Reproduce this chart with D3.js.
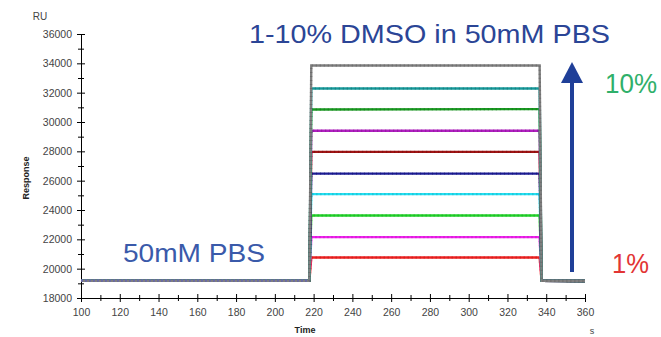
<!DOCTYPE html>
<html>
<head>
<meta charset="utf-8">
<script src="https://cdn.jsdelivr.net/npm/d3@7"></script>
<style>
  body { margin: 0; background: #fff; }
  svg { display: block; }
  .axis text { font-family: "Liberation Sans", Arial, sans-serif; font-size: 10.5px; fill: #444; }
  .axis path, .axis line { stroke: #000; }
</style>
</head>
<body>
<div id="chart"></div>
<script>
// Sensorgram: DMSO calibration series

// time points of each trace (s)
var times = [100, 217.8, 218.8, 336.6, 337.6, 360];

// series labels, colours and response values (RU) at each time point
var names = ["10%", "9%", "8%", "7%", "6%", "5%", "4%", "3%", "2%", "1%"];
var colors = ["#7f7f7f", "#17999a", "#1a9a22", "#b01fc0", "#a01414", "#1c1c96", "#22dff2", "#22d42a", "#f022ee", "#f02222"];
var s10 = [19180, 19180, 33850, 33850, 19170, 19160];
var s9  = [19180, 19180, 32280, 32280, 19170, 19160];
var s8  = [19180, 19180, 30850, 30880, 19170, 19160];
var s7  = [19190, 19190, 29400, 29400, 19170, 19160];
var s6  = [19180, 19180, 27960, 27960, 19170, 19160];
var s5  = [19190, 19190, 26480, 26480, 19170, 19160];
var s4  = [19180, 19180, 25080, 25080, 19170, 19160];
var s3  = [19180, 19180, 23630, 23630, 19170, 19160];
var s2  = [19190, 19190, 22150, 22150, 19170, 19160];
var s1  = [19180, 19180, 20760, 20760, 19170, 19160];
var values = [s10, s9, s8, s7, s6, s5, s4, s3, s2, s1];

var xTicks = [100, 120, 140, 160, 180, 200, 220, 240, 260, 280, 300, 320, 340, 360];
var yTicks = [18000, 20000, 22000, 24000, 26000, 28000, 30000, 32000, 34000, 36000];

var width = 661, height = 337;
var margin = {top: 34, right: 76, bottom: 39, left: 81};

var svg = d3.select("#chart").append("svg")
  .attr("width", width)
  .attr("height", height);

var x = d3.scaleLinear().domain([100, 360]).range([margin.left, width - margin.right]);
var y = d3.scaleLinear().domain([18000, 36000]).range([height - margin.bottom, margin.top]);

// minor ticks first, then the labelled ones
svg.append("g")
  .attr("class", "axis")
  .attr("transform", "translate(0," + y(18000) + ")")
  .call(d3.axisBottom(x).tickValues(d3.range(110, 360, 20)).tickSize(3).tickFormat(""))
  .call(function(g) { g.select(".domain").remove(); g.selectAll("line").attr("y1", -3); });

svg.append("g")
  .attr("class", "axis")
  .attr("transform", "translate(0," + y(18000) + ")")
  .call(d3.axisBottom(x).tickValues(xTicks).tickSize(4).tickSizeOuter(0).tickPadding(7))
  .call(function(g) { g.selectAll("line").attr("y1", -4); });

svg.append("g")
  .attr("class", "axis")
  .attr("transform", "translate(" + x(100) + ",0)")
  .call(d3.axisLeft(y).tickValues(d3.range(19000, 36000, 2000)).tickSize(3).tickFormat(""))
  .call(function(g) { g.select(".domain").remove(); g.selectAll("line").attr("x1", 3); });

svg.append("g")
  .attr("class", "axis")
  .attr("transform", "translate(" + x(100) + ",0)")
  .call(d3.axisLeft(y).tickValues(yTicks).tickSize(4).tickSizeOuter(0).tickPadding(5).tickFormat(d3.format("d")))
  .call(function(g) { g.selectAll("line").attr("x1", 4); });

// axis titles
svg.append("text")
  .attr("x", 40).attr("y", 20)
  .attr("text-anchor", "middle")
  .style("font-family", "Liberation Sans, Arial, sans-serif")
  .style("font-size", "10px").style("fill", "#444")
  .text("RU");

svg.append("text")
  .attr("transform", "translate(29,178) rotate(-90)")
  .attr("text-anchor", "middle")
  .style("font-family", "Liberation Sans, Arial, sans-serif")
  .style("font-size", "9px").style("font-weight", "bold").style("fill", "#222")
  .text("Response");

svg.append("text")
  .attr("x", 305).attr("y", 333)
  .attr("text-anchor", "middle")
  .style("font-family", "Liberation Sans, Arial, sans-serif")
  .style("font-size", "9px").style("font-weight", "bold").style("fill", "#222")
  .text("Time");

svg.append("text")
  .attr("x", 592).attr("y", 334)
  .attr("text-anchor", "middle")
  .style("font-family", "Liberation Sans, Arial, sans-serif")
  .style("font-size", "9px").style("fill", "#444")
  .text("s");

// traces, drawn from the lowest up so the top ones sit on the shared baseline
var line = d3.line()
  .x(function(d, i) { return x(times[i]); })
  .y(function(d) { return y(d); });

var traces = svg.append("g");
values.slice().reverse().forEach(function(v, j) {
  var k = values.length - 1 - j;
  traces.append("path")
    .datum(v)
    .attr("d", line)
    .attr("fill", "none")
    .attr("stroke", colors[k])
    .attr("stroke-width", 2.4);
  traces.append("path")
    .datum(v)
    .attr("d", line)
    .attr("fill", "none")
    .attr("stroke", d3.color(colors[k]).darker(1))
    .attr("stroke-width", 2.4)
    .attr("stroke-dasharray", "1,3")
    .attr("opacity", 0.5);
});

// the pre-injection baseline shows the bluish traces on top in the original
traces.append("path")
  .datum(values[5].slice(0, 2))
  .attr("d", line)
  .attr("fill", "none")
  .attr("stroke", "#6a6aa8")
  .attr("stroke-width", 2.4)
  .attr("stroke-dasharray", "2,2");

// annotations
var blue = "#2b4596";
svg.append("text")
  .attr("x", 249).attr("y", 43)
  .style("font-family", "Liberation Sans, Arial, sans-serif")
  .style("font-size", "25px").style("fill", blue)
  .attr("textLength", 361).attr("lengthAdjust", "spacingAndGlyphs")
  .text("1-10% DMSO in 50mM PBS");

svg.append("text")
  .attr("x", 123).attr("y", 262)
  .style("font-family", "Liberation Sans, Arial, sans-serif")
  .style("font-size", "26px").style("fill", "#3a5aaa")
  .attr("textLength", 142).attr("lengthAdjust", "spacingAndGlyphs")
  .text("50mM PBS");

svg.append("text")
  .attr("x", 605).attr("y", 93)
  .style("font-family", "Liberation Sans, Arial, sans-serif")
  .style("font-size", "27px").style("fill", "#2fb06a")
  .attr("textLength", 52).attr("lengthAdjust", "spacingAndGlyphs")
  .text("10%");

svg.append("text")
  .attr("x", 612).attr("y", 273)
  .style("font-family", "Liberation Sans, Arial, sans-serif")
  .style("font-size", "27px").style("fill", "#e23434")
  .attr("textLength", 37).attr("lengthAdjust", "spacingAndGlyphs")
  .text("1%");

// arrow
svg.append("line")
  .attr("x1", 572).attr("x2", 572)
  .attr("y1", 272).attr("y2", 80)
  .attr("stroke", "#1f3f98").attr("stroke-width", 4);
svg.append("path")
  .attr("d", "M572,62 L583,83 L561,83 Z")
  .attr("fill", "#1f3f98");
</script>
</body>
</html>
